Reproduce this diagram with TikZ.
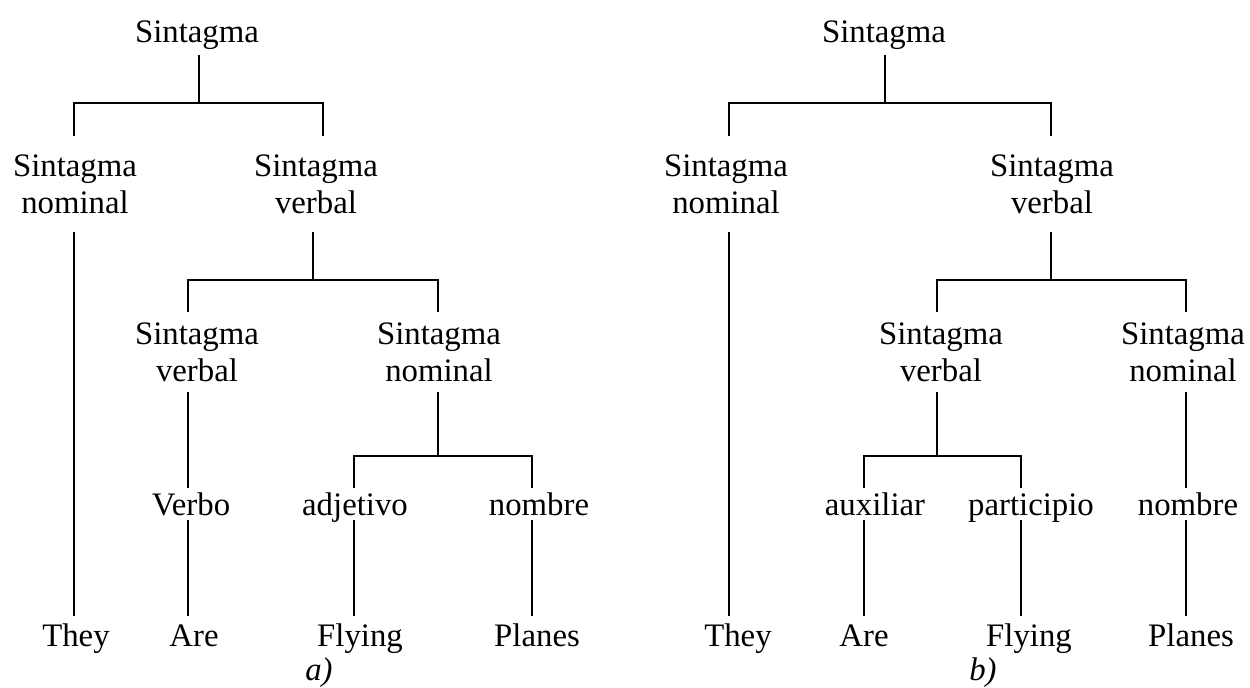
\documentclass[tikz,border=0pt]{standalone}
\usepackage{fontspec}
\setmainfont{Liberation Serif}
\tikzset{>=latex}
\tikzset{
	word/.style={inner sep=0pt,font=\fontsize{16.4}{18.5}\selectfont,anchor=base},
	phrase/.style={inner sep=0pt,font=\fontsize{16.4}{18.5}\selectfont,align=center,anchor=center},
	toplvl/.style={word,text depth=6pt},
	lvltwo/.style={phrase,minimum height=47.5pt},
	lvlthree/.style={phrase,minimum height=40pt},
	cat/.style={word,text height=14pt,text depth=2pt},
	leaf/.style={word,text height=15.5pt,text depth=4pt},
	caption/.style={word,font=\fontsize{16.4}{18.5}\selectfont\itshape},
	branch/.style={line width=0.9pt}
}
\begin{document}
\begin{tikzpicture}[x=0.5pt,y=-0.5pt]
	\useasboundingbox (0,0) rectangle (1250,688);

	% a)
	\node[toplvl] (sA) at (197,43) {Sintagma};
	\node[lvltwo] (snA) at (75,184) {Sintagma\\nominal};
	\node[lvltwo] (svA) at (316,184) {Sintagma\\verbal};
	\node[lvlthree] (svvA) at (197,352) {Sintagma\\verbal};
	\node[lvlthree] (snnA) at (439,352) {Sintagma\\nominal};
	\node[cat] (verboA) at (191,516) {Verbo};
	\node[cat] (adjA) at (355,516) {adjetivo};
	\node[cat] (nomA) at (539,516) {nombre};
	\node[leaf] (theyA) at (76,647) {They};
	\node[leaf] (areA) at (194,647) {Are};
	\node[leaf] (flyA) at (360,647) {Flying};
	\node[leaf] (plaA) at (537,647) {Planes};
	\node[caption] (capA) at (319,681) {a)};

	\draw[branch] ([xshift=1pt]sA.south) -- ++(0,48) coordinate (jA) -| ([xshift=-.5pt]snA.north) (jA) -| ([xshift=3.5pt]svA.north);
	\draw[branch] ([xshift=-.5pt]snA.south) -- ([xshift=-.5pt]snA.south |- theyA.north);
	\draw[branch] ([xshift=-1.5pt]svA.south) -- ++(0,48.5) coordinate (kA) -| ([xshift=-4.5pt]svvA.north) (kA) -| ([xshift=-.5pt]snnA.north);
	\draw[branch] ([xshift=-4.5pt]svvA.south) -- ([xshift=-4.5pt]svvA.south |- verboA.north);
	\draw[branch] ([xshift=-1.5pt]verboA.south) -- ([xshift=-1.5pt]verboA.south |- areA.north);
	\draw[branch] ([xshift=-.5pt]snnA.south) -- ++(0,64) coordinate (lA) -| ([xshift=-.5pt]adjA.north) (lA) -| ([xshift=-3.5pt]nomA.north);
	\draw[branch] ([xshift=-.5pt]adjA.south) -- ([xshift=-.5pt]adjA.south |- flyA.north);
	\draw[branch] ([xshift=-3.5pt]nomA.south) -- ([xshift=-3.5pt]nomA.south |- plaA.north);

	% b)
	\node[toplvl] (sB) at (884,43) {Sintagma};
	\node[lvltwo] (snB) at (726,184) {Sintagma\\nominal};
	\node[lvltwo] (svB) at (1052,184) {Sintagma\\verbal};
	\node[lvlthree] (svvB) at (941,352) {Sintagma\\verbal};
	\node[lvlthree] (snnB) at (1183,352) {Sintagma\\nominal};
	\node[cat] (auxB) at (875,516) {auxiliar};
	\node[cat] (parB) at (1031,516) {participio};
	\node[cat] (nomB) at (1188,516) {nombre};
	\node[leaf] (theyB) at (738,647) {They};
	\node[leaf] (areB) at (864,647) {Are};
	\node[leaf] (flyB) at (1029,647) {Flying};
	\node[leaf] (plaB) at (1191,647) {Planes};
	\node[caption] (capB) at (983,681) {b)};

	\draw[branch] ([xshift=.5pt]sB.south) -- ++(0,48) coordinate (jB) -| ([xshift=1.5pt]snB.north) (jB) -| ([xshift=-.5pt]svB.north);
	\draw[branch] ([xshift=1.5pt]snB.south) -- ([xshift=1.5pt]snB.south |- theyB.north);
	\draw[branch] ([xshift=-.5pt]svB.south) -- ++(0,48.5) coordinate (kB) -| ([xshift=-2pt]svvB.north) (kB) -| ([xshift=1.5pt]snnB.north);
	\draw[branch] ([xshift=-2pt]svvB.south) -- ++(0,64) coordinate (lB) -| ([xshift=-5.5pt]auxB.north) (lB) -| ([xshift=-5pt]parB.north);
	\draw[branch] ([xshift=1.5pt]snnB.south) -- ([xshift=1.5pt]snnB.south |- nomB.north);
	\draw[branch] ([xshift=-1pt]nomB.south) -- ([xshift=-1pt]nomB.south |- plaB.north);
	\draw[branch] ([xshift=-5.5pt]auxB.south) -- ([xshift=-5.5pt]auxB.south |- areB.north);
	\draw[branch] ([xshift=-5pt]parB.south) -- ([xshift=-5pt]parB.south |- flyB.north);
\end{tikzpicture}
\end{document}
